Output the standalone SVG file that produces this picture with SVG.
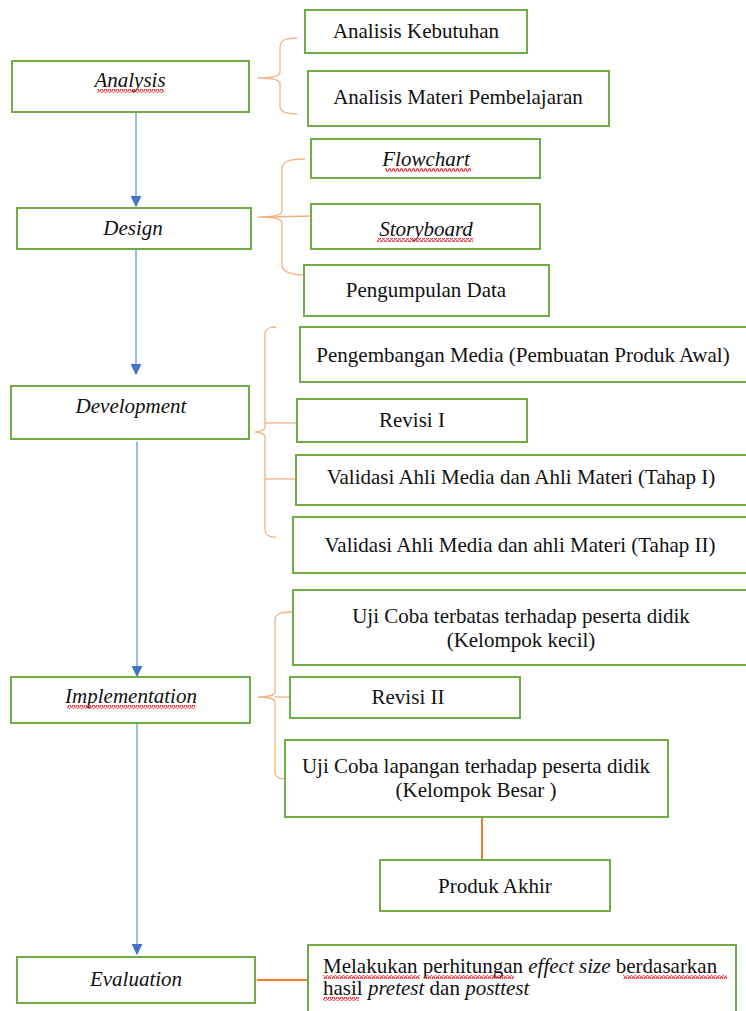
<svg xmlns="http://www.w3.org/2000/svg" width="746" height="1011" viewBox="0 0 746 1011">
<defs>
<style>
.box{fill:#fff;stroke:#70AD47;stroke-width:2}
.flow{stroke:#5B9BD5;stroke-width:1.3;fill:none}
.brace{stroke:#F4B183;stroke-width:1.3;fill:none}
.or{stroke:#ED7D31;stroke-width:2;fill:none}
.sq{fill:url(#wave)}
</style>
<marker id="ah" viewBox="0 0 10 10" refX="9" refY="5" markerWidth="11" markerHeight="11" markerUnits="userSpaceOnUse" orient="auto">
<path d="M0,0 L10,5 L0,10 Z" fill="#4472C4"/>
</marker>
<pattern id="wave" width="4" height="4" patternUnits="userSpaceOnUse">
<path d="M0,3.2 L1,0.8 L2,0.8 L3,3.2 L4,3.2" fill="none" stroke="#E0282E" stroke-width="1.1"/>
</pattern>
</defs>
<rect width="746" height="1011" fill="#fff"/>

<g id="connectors">
<line class="flow" x1="136" y1="113" x2="136" y2="206" marker-end="url(#ah)"/>
<line class="flow" x1="136" y1="250" x2="136" y2="374" marker-end="url(#ah)"/>
<line class="flow" x1="137" y1="442" x2="137" y2="676" marker-end="url(#ah)"/>
<line class="flow" x1="137" y1="724" x2="137" y2="954" marker-end="url(#ah)"/>
<path class="brace" d="M297,38 C286,38 280,40 280,48 L280,72 C280,76 272,78 258,78 C272,78 280,80 280,84 L280,106 C280,112 286,114 297,114"/>
<path class="brace" d="M305,159 C290,159 282,161 282,169 L282,211 C282,215 272,217 258,217 C272,217 282,219 282,223 L282,265 C282,272 292,275 304,275"/>
<line class="brace" x1="262" y1="217" x2="313" y2="216"/>
<path class="brace" d="M276,327 C268,327 265,329 265,334 L265,427 C265,430 260,432 255,432 C260,432 265,434 265,437 L265,530 C265,535 268,537 276,537"/>
<line class="brace" x1="265" y1="423" x2="297" y2="423"/>
<line class="brace" x1="265" y1="479" x2="296" y2="479"/>
<path class="brace" d="M293,612 C280,612 275,614 275,620 L275,692 C275,695 268,697 258,697 C268,697 275,699 275,702 L275,772 C275,777 280,779 285,779"/>
<line class="brace" x1="275" y1="697" x2="290" y2="697"/>
<line class="or" x1="482" y1="817" x2="482" y2="860"/>
<line class="or" x1="257" y1="980" x2="308" y2="980"/>
</g>

<g font-family="Liberation Serif" font-size="21" fill="#111">
<g id="analysis">
<rect class="box" x="12" y="61" width="237" height="51"/>
<text x="130" y="87" font-family="Liberation Serif" font-style="italic" text-anchor="middle">Analysis</text>
<rect class="sq" x="97" y="89" width="67" height="4"/>
</g>
<g id="analisis-kebutuhan">
<rect class="box" x="305" y="10" width="222" height="43"/>
<text x="416" y="38" font-family="Liberation Serif" text-anchor="middle">Analisis Kebutuhan</text>
</g>
<g id="analisis-materi">
<rect class="box" x="308" y="71" width="301" height="55"/>
<text x="458" y="104" font-family="Liberation Serif" text-anchor="middle">Analisis Materi Pembelajaran</text>
</g>

<g id="design">
<rect class="box" x="17" y="208" width="234" height="41"/>
<text x="133" y="235" font-family="Liberation Serif" font-style="italic" text-anchor="middle">Design</text>
</g>
<g id="flowchart">
<rect class="box" x="311" y="139" width="229" height="39"/>
<text x="426" y="166" font-family="Liberation Serif" font-style="italic" text-anchor="middle">Flowchart</text>
<rect class="sq" x="385" y="168" width="86" height="4"/>
</g>
<g id="storyboard">
<rect class="box" x="311" y="204" width="229" height="45"/>
<text x="426" y="236" font-family="Liberation Serif" font-style="italic" text-anchor="middle">Storyboard</text>
<rect class="sq" x="377" y="238" width="96" height="4"/>
</g>
<g id="pengumpulan-data">
<rect class="box" x="304" y="265" width="245" height="51"/>
<text x="426" y="297" font-family="Liberation Serif" text-anchor="middle">Pengumpulan Data</text>
</g>

<g id="development">
<rect class="box" x="11" y="386" width="238" height="53"/>
<text x="131" y="413" font-family="Liberation Serif" font-style="italic" text-anchor="middle">Development</text>
</g>
<g id="pengembangan-media">
<rect class="box" x="300" y="327" width="450" height="55"/>
<text x="523" y="362" font-family="Liberation Serif" text-anchor="middle">Pengembangan Media (Pembuatan Produk Awal)</text>
</g>
<g id="revisi-1">
<rect class="box" x="297" y="399" width="230" height="43"/>
<text x="412" y="427" font-family="Liberation Serif" text-anchor="middle">Revisi I</text>
</g>
<g id="validasi-1">
<rect class="box" x="296" y="455" width="454" height="50"/>
<text x="521" y="484" font-family="Liberation Serif" text-anchor="middle">Validasi Ahli Media dan Ahli Materi (Tahap I)</text>
</g>
<g id="validasi-2">
<rect class="box" x="293" y="517" width="457" height="56"/>
<text x="520" y="552" font-family="Liberation Serif" text-anchor="middle">Validasi Ahli Media dan ahli Materi (Tahap II)</text>
</g>

<g id="implementation">
<rect class="box" x="11" y="677" width="239" height="46"/>
<text x="131" y="703" font-family="Liberation Serif" font-style="italic" text-anchor="middle">Implementation</text>
<rect class="sq" x="67" y="705" width="128" height="4"/>
</g>
<g id="uji-terbatas">
<rect class="box" x="293" y="590" width="457" height="75"/>
<text x="521" y="623" font-family="Liberation Serif" text-anchor="middle">Uji Coba terbatas terhadap peserta didik</text>
<text x="521" y="647" font-family="Liberation Serif" text-anchor="middle">(Kelompok kecil)</text>
</g>
<g id="revisi-2">
<rect class="box" x="290" y="677" width="230" height="41"/>
<text x="408" y="704" font-family="Liberation Serif" text-anchor="middle">Revisi II</text>
</g>
<g id="uji-lapangan">
<rect class="box" x="285" y="740" width="383" height="77"/>
<text x="476" y="773" font-family="Liberation Serif" text-anchor="middle">Uji Coba lapangan terhadap peserta didik</text>
<text x="476" y="797" font-family="Liberation Serif" text-anchor="middle">(Kelompok Besar )</text>
</g>
<g id="produk-akhir">
<rect class="box" x="380" y="860" width="230" height="51"/>
<text x="495" y="893" font-family="Liberation Serif" text-anchor="middle">Produk Akhir</text>
</g>

<g id="evaluation">
<rect class="box" x="17" y="957" width="238" height="46"/>
<text x="136" y="986" font-family="Liberation Serif" font-style="italic" text-anchor="middle">Evaluation</text>
</g>
<g id="melakukan">
<rect class="box" x="308" y="945" width="428" height="80"/>
<text x="323" y="973" font-family="Liberation Serif">Melakukan perhitungan <tspan font-style="italic">effect size</tspan> berdasarkan</text>
<text x="323" y="995" font-family="Liberation Serif">hasil <tspan font-style="italic">pretest</tspan> dan <tspan font-style="italic">posttest</tspan></text>
<rect class="sq" x="323" y="975" width="97" height="4"/>
<rect class="sq" x="424" y="975" width="90" height="4"/>
<rect class="sq" x="623" y="975" width="104" height="4"/>
<rect class="sq" x="323" y="997" width="36" height="4"/>
</g>
</g>
</svg>
